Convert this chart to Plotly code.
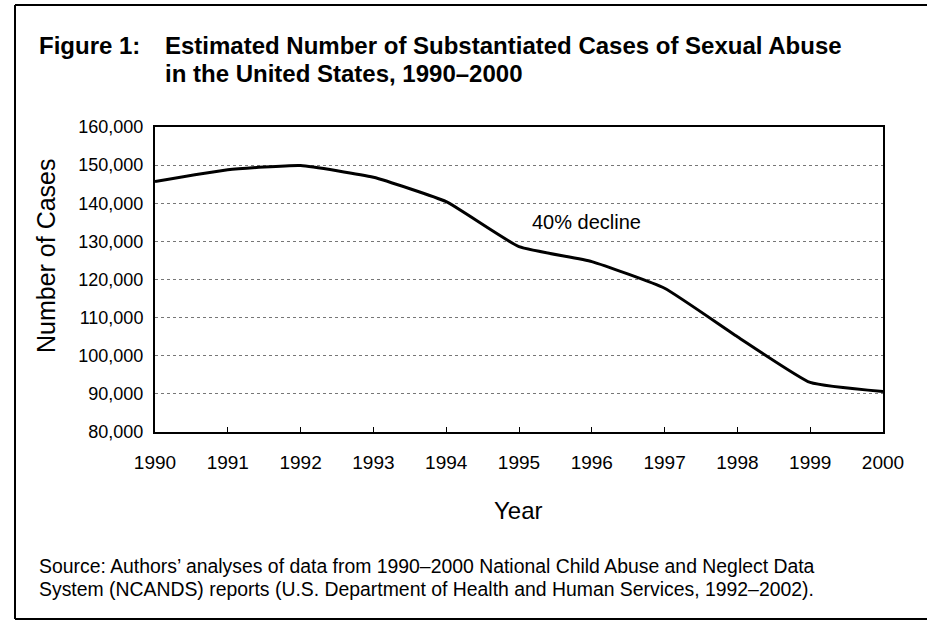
import plotly.graph_objects as go

years = [1990, 1991, 1992, 1993, 1994, 1995, 1996, 1997, 1998, 1999, 2000]
cases = [145700, 148800, 149900, 146800, 140400, 128600, 124700, 117700, 105000, 93000, 90600]
y_ticks = [80000, 90000, 100000, 110000, 120000, 130000, 140000, 150000, 160000]
y_tick_labels = ["80,000", "90,000", "100,000", "110,000", "120,000", "130,000", "140,000", "150,000", "160,000"]

FONT = "Liberation Sans, Arial, sans-serif"

fig = go.Figure()
fig.add_trace(go.Scatter(
    x=years, y=cases, mode="lines",
    line=dict(color="black", width=3, shape="spline", smoothing=0.4),
    hoverinfo="x+y", showlegend=False,
))

L, R, T, B = 155, 883, 127, 432
W, H = 927, 623
def px(x):
    return (x - L) / (R - L)
def py(y):
    return (B - y) / (B - T)

ann = []
ann.append(dict(text="<b>Figure 1:</b>", x=px(37), y=py(46), xref="paper", yref="paper",
                xanchor="left", yanchor="middle", showarrow=False, font=dict(size=24, color="black", family=FONT)))
ann.append(dict(text="<b>Estimated Number of Substantiated Cases of Sexual Abuse</b>", x=px(163), y=py(46),
                xref="paper", yref="paper", xanchor="left", yanchor="middle", showarrow=False,
                font=dict(size=24, color="black", family=FONT)))
ann.append(dict(text="<b>in the United States, 1990–2000</b>", x=px(163), y=py(73),
                xref="paper", yref="paper", xanchor="left", yanchor="middle", showarrow=False,
                font=dict(size=24, color="black", family=FONT)))
ann.append(dict(text="Number of Cases", x=px(46), y=py(256), xref="paper", yref="paper",
                xanchor="center", yanchor="middle", textangle=-90, showarrow=False,
                font=dict(size=25, color="black", family=FONT)))
ann.append(dict(text="Year", x=px(518), y=py(511), xref="paper", yref="paper",
                xanchor="center", yanchor="middle", showarrow=False,
                font=dict(size=24, color="black", family=FONT)))
ann.append(dict(text="Source: Authors’ analyses of data from 1990–2000 National Child Abuse and Neglect Data",
                x=px(37), y=py(566), xref="paper", yref="paper", xanchor="left", yanchor="middle",
                showarrow=False, font=dict(size=19.4, color="black", family=FONT)))
ann.append(dict(text="System (NCANDS) reports (U.S. Department of Health and Human Services, 1992–2002).",
                x=px(37), y=py(589), xref="paper", yref="paper", xanchor="left", yanchor="middle",
                showarrow=False, font=dict(size=19.4, color="black", family=FONT)))
ann.append(dict(text="40% decline", x=1995.93, y=135100, xref="x", yref="y",
                xanchor="center", yanchor="middle", showarrow=False,
                font=dict(size=20, color="black", family=FONT)))

shapes = [
    dict(type="line", xref="paper", yref="paper", x0=px(15), x1=px(927), y0=py(5), y1=py(5),
         line=dict(color="black", width=2)),
    dict(type="line", xref="paper", yref="paper", x0=px(15), x1=px(927), y0=py(619), y1=py(619),
         line=dict(color="black", width=2)),
    dict(type="line", xref="paper", yref="paper", x0=px(15), x1=px(15), y0=py(5), y1=py(619),
         line=dict(color="black", width=2)),
]

fig.update_layout(
    width=W, height=H,
    margin=dict(l=L, r=W - R, t=T, b=H - B, pad=0),
    paper_bgcolor="white", plot_bgcolor="white",
    font=dict(family=FONT, color="black"),
    annotations=ann, shapes=shapes,
    xaxis=dict(range=[1990, 2000], tickmode="array", tickvals=years, ticktext=[str(y) for y in years],
               showline=True, mirror=True, linecolor="black", linewidth=2,
               ticks="inside", ticklen=5, tickcolor="black", showgrid=False, zeroline=False,
               tickfont=dict(size=19, color="black", family=FONT), ticklabelstandoff=12),
    yaxis=dict(range=[80000, 160000], tickmode="array", tickvals=y_ticks, ticktext=y_tick_labels,
               showline=True, mirror=True, linecolor="black", linewidth=2,
               ticks="", showgrid=True, gridcolor="#777", gridwidth=1, griddash="dot", zeroline=False,
               tickfont=dict(size=18, color="black", family=FONT), ticklabelstandoff=6),
)

fig.write_html("out.html", config={"displayModeBar": False},
               post_script="document.body.style.margin='0';document.body.style.overflow='hidden';")
